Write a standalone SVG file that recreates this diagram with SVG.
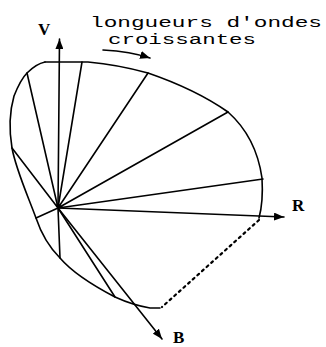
<svg xmlns="http://www.w3.org/2000/svg" width="326" height="347" viewBox="0 0 326 347">
<defs>
<style>
.ln{fill:none;stroke:#000;stroke-width:1.6;stroke-linecap:round;stroke-linejoin:round}
.dot{fill:none;stroke:#000;stroke-width:2.2;stroke-dasharray:2.2 4;stroke-linecap:round}
.lab{font-family:"Liberation Serif",serif;font-weight:bold;font-size:17px;fill:#000}
.mono{font-family:"Liberation Mono","Courier New",monospace;font-size:14.5px;fill:#000}
</style>
<marker id="ah" viewBox="0 0 10 8" refX="10" refY="4" markerWidth="10" markerHeight="8" markerUnits="userSpaceOnUse" orient="auto">
<path d="M0,0 L10,4 L0,8 Z" fill="#000"/>
</marker>
</defs>
<rect width="326" height="347" fill="#fff"/>
<g id="gamut">
<path class="ln" d="M45,62 L88,62 C110,64 130,68 148,73 C180,84 208,98 228,112 C246,128 258,150 262,178 C263,195 262,207 259,218"/>
<path class="dot" d="M259,220 L162,307"/>
<path class="ln" d="M160,308 L150,308 C138,306 126,302 115,297 C92,285 72,272 60,258 C48,246 40,230 36,218 C28,196 16,170 12,148 C9,130 10,110 14,96 C18,86 22,78 27,73 C34,66 40,63 45,62"/>
</g>
<g id="spokes">
<path class="ln" d="M58,208 L263,179 M58,208 L228,112 M58,208 L148,73 M58,208 L82,62 M58,208 L27,73 M58,208 L12,148 M58,208 L36,218 M58,208 L60,258 M58,208 L115,297"/>
</g>
<g id="connectors">
<path class="ln" d="M58,208 L59.5,39" marker-end="url(#ah)"/>
<path class="ln" d="M58,208 L284,217" marker-end="url(#ah)"/>
<path class="ln" d="M58,208 L162,339" marker-end="url(#ah)"/>
<path class="ln" d="M103,50 C120,51 135,53 150,58" marker-end="url(#ah)"/>
</g>
<g id="label-V"><text class="lab" x="38" y="35">V</text></g>
<g id="label-R"><text class="lab" x="292" y="211">R</text></g>
<g id="label-B"><text class="lab" x="173" y="343">B</text></g>
<g id="caption">
<text class="mono" x="90" y="27" textLength="232" lengthAdjust="spacingAndGlyphs">longueurs d'ondes</text>
<text class="mono" x="108" y="44" textLength="148" lengthAdjust="spacingAndGlyphs">croissantes</text>
</g>
</svg>
